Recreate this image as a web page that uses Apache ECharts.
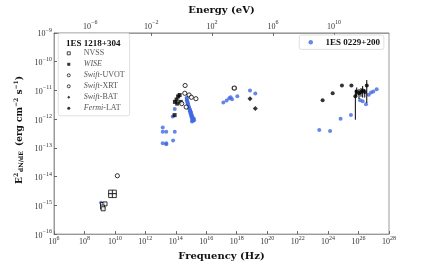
<!DOCTYPE html>
<html><head><meta charset="utf-8">
<script src="https://cdn.jsdelivr.net/npm/echarts@6/dist/echarts.min.js"></script>
<style>html,body{margin:0;padding:0;background:#fff}#c{width:432px;height:266px}</style>
</head><body><div id="c"></div>
<script>
// Values stored as [log10(frequency / Hz), log10(E^2 dN/dE / erg cm^-2 s^-1)]
const nvssLog = [[9.19,-14.97],[9.35,-14.95],[9.19,-15.06],[9.23,-15.12],[9.72,-14.54],[9.96,-14.54],[9.72,-14.66],[9.96,-14.66]];
const wiseLog = [[13.94,-11.40],[14.05,-11.32],[14.15,-11.21],[14.25,-11.16],[14.09,-11.46],[14.32,-11.40],[13.92,-11.86]];
const uvotLog = [[10.16,-13.97],[14.61,-10.83],[14.59,-11.10],[14.87,-11.16],[15.02,-11.24],[15.32,-11.29],[14.68,-11.58],[14.39,-11.46]];
const xrtLog = [[17.84,-10.92]];
const batLog = [[18.87,-11.29],[19.22,-11.63]];
const latLog = [[23.64,-11.34],[24.30,-11.10],[24.91,-10.83],[25.53,-10.83]];
// [log nu, log flux, log low, log high]
const latErrLog = [[25.79,-11.20,-12.02,-10.98],[25.88,-11.04,-11.20,-10.90],[26.03,-11.10,-11.30,-10.95],[26.16,-11.06,-11.22,-10.92],[26.27,-11.00,-11.25,-10.85],[26.41,-11.06,-11.25,-10.95],[26.54,-10.83,-11.44,-10.64]];
const blueLog = [
 [9.09,-14.91],
 [13.14,-12.29],[13.14,-12.44],[13.37,-12.44],[13.93,-12.44],[13.14,-12.84],[13.37,-12.84],[13.37,-12.87],[13.82,-12.74],
 [13.93,-11.65],[13.80,-11.91],
 [14.71,-11.26],[14.72,-11.30],[14.73,-11.34],[14.75,-11.38],[14.77,-11.42],[14.79,-11.46],[14.81,-11.50],[14.83,-11.55],[14.86,-11.58],[14.88,-11.62],[14.90,-11.66],[14.93,-11.68],[14.95,-11.72],[14.98,-11.75],[15.00,-11.78],[14.92,-11.73],[14.96,-11.80],[15.02,-11.83],[15.05,-11.87],[15.00,-11.88],[15.08,-11.92],[15.04,-11.95],[15.10,-11.97],[15.12,-12.00],[15.08,-12.02],[15.15,-12.03],[15.13,-12.06],[15.18,-11.98],[15.20,-12.04],[15.06,-12.08],
 [17.12,-11.42],[17.34,-11.35],[17.51,-11.27],[17.60,-11.24],[17.69,-11.31],[18.04,-11.20],[18.87,-11.00],[19.22,-11.11],
 [23.42,-12.38],[24.13,-12.41],[24.82,-11.99],[25.50,-11.86],[26.10,-11.34],[26.27,-11.38],[26.49,-11.48],[26.67,-11.15],[26.82,-11.07],[26.97,-11.04],[27.19,-10.96]
];
const freqTicks = [6,8,10,12,14,16,18,20,22,24,26,28];
const energyTicks = [-6,-2,2,6,10];
const fluxTicks = [-16,-15,-14,-13,-12,-11,-10,-9];
const H_EV = 4.135667e-15; // Planck constant, eV s

const P = a => a.map(p => [Math.pow(10,p[0]), Math.pow(10,p[1])]);
const pw = e => Math.pow(10,e);
const SERIF = 'Liberation Serif';
const TSERIF = 'DejaVu Serif';
const supFmt = v => { const e = Math.round(Math.log10(v)); return '{b|10}{s|' + (e<0 ? '\u2212'+(-e) : e) + '}'; };
const richLab = { b:{fontSize:8, fontFamily:SERIF, color:'#333', lineHeight:11, verticalAlign:'bottom'}, s:{fontSize:6, fontFamily:SERIF, color:'#333', lineHeight:6, verticalAlign:'top'} };
const axisCol = '#9a9a9a';

const chart = echarts.init(document.getElementById('c'), null, {renderer:'canvas'});
const openStyle = (w) => ({color:'#fff', borderColor:'#000', borderWidth:w});
chart.setOption({
  animation:false,
  grid:{left:54, right:43, top:31, bottom:29, show:true, borderColor:axisCol, borderWidth:1},
  xAxis:[
    {type:'log', position:'bottom', min:pw(6), max:pw(28),
     axisLine:{show:true, lineStyle:{color:axisCol}},
     axisTick:{show:true, inside:true, length:3, lineStyle:{color:'#666'}, customValues:freqTicks.map(pw)},
     axisLabel:{margin:1, formatter:supFmt, rich:richLab, customValues:freqTicks.map(pw)},
     splitLine:{show:false},
     name:'Frequency (Hz)', nameLocation:'middle', nameGap:9,
     nameTextStyle:{fontFamily:TSERIF, fontWeight:'bold', fontSize:10, color:'#111'}},
    {type:'log', position:'top', min:pw(6)*H_EV, max:pw(28)*H_EV,
     axisLine:{show:true, lineStyle:{color:axisCol}},
     axisTick:{show:true, inside:true, length:3, lineStyle:{color:'#666'}, customValues:energyTicks.map(pw)},
     axisLabel:{margin:2, formatter:supFmt, rich:richLab, customValues:energyTicks.map(pw)},
     splitLine:{show:false},
     name:'Energy (eV)', nameLocation:'middle', nameGap:15,
     nameTextStyle:{fontFamily:TSERIF, fontWeight:'bold', fontSize:10, color:'#111'}}
  ],
  yAxis:[{type:'log', min:pw(-16), max:pw(-9),
     axisLine:{show:true, lineStyle:{color:axisCol}},
     axisTick:{show:true, inside:true, length:3, lineStyle:{color:'#666'}, customValues:fluxTicks.map(pw)},
     axisLabel:{margin:2, formatter:supFmt, rich:richLab, customValues:fluxTicks.map(pw)},
     splitLine:{show:false}}],
  legend:[
    {orient:'vertical', left:58.3, top:33.3, padding:[14.5,5,2,8.5], itemGap:0, itemWidth:3, itemHeight:3,
     itemStyle:{borderWidth:0.9},
     backgroundColor:'#fff', borderColor:'#d8d8d8', borderWidth:0.8, borderRadius:2,
     data:['NVSS','WISE','Swift-UVOT','Swift-XRT','Swift-BAT','Fermi-LAT'],
     formatter: n => ({'NVSS':'{r|NVSS}','WISE':'{i|WISE}','Swift-UVOT':'{i|Swift}{r|-UVOT}','Swift-XRT':'{i|Swift}{r|-XRT}','Swift-BAT':'{i|Swift}{r|-BAT}','Fermi-LAT':'{i|Fermi}{r|-LAT}'})[n],
     textStyle:{fontFamily:SERIF, fontSize:8, color:'#555', lineHeight:11, padding:[0,0,0,8.5],
       rich:{r:{fontFamily:SERIF, fontSize:8, color:'#555', lineHeight:11}, i:{fontFamily:SERIF, fontSize:8, fontStyle:'italic', color:'#555', lineHeight:11}}}},
    {orient:'vertical', left:299.3, top:35, padding:[1.7,4,1.7,9.2], itemWidth:4.5, itemHeight:4.5,
     backgroundColor:'#fff', borderColor:'#d8d8d8', borderWidth:0.8, borderRadius:2,
     data:['1ES 0229+200'],
     textStyle:{fontFamily:SERIF, fontSize:9, fontWeight:'bold', color:'#111', lineHeight:11, padding:[0,0,0,7.5]}}
  ],
  graphic:[
    {type:'text', x:93.3, y:43.3, z:100, style:{text:'1ES 1218+304', fontFamily:SERIF, fontSize:9, fontWeight:'bold', fill:'#111', align:'center', verticalAlign:'middle'}},
    {type:'text', x:19, y:130, rotation:Math.PI/2, z:100, style:{
      text:'{b|E}{s|2}{f|dN/dE}{b| (erg cm}{s|\u22122}{b| s}{s|\u22121}{b|)}', align:'center', verticalAlign:'middle',
      rich:{b:{fontFamily:TSERIF, fontWeight:'bold', fontSize:9, fill:'#111', lineHeight:11, verticalAlign:'bottom'},
            s:{fontFamily:TSERIF, fontWeight:'bold', fontSize:6, fill:'#111', lineHeight:6, verticalAlign:'top'},
            f:{fontFamily:TSERIF, fontWeight:'bold', fontSize:6, fill:'#111', lineHeight:11, verticalAlign:'bottom', padding:[0,2,0,1]}}}}
  ],
  series:[
    {name:'1ES 0229+200', type:'scatter', symbol:'circle', symbolSize:4, z:2, data:P(blueLog), itemStyle:{color:'#4169e1', opacity:0.8}},
    {name:'NVSS', type:'scatter', symbol:'rect', symbolSize:4, z:3, data:P(nvssLog), itemStyle:openStyle(1)},
    {name:'WISE', type:'scatter', symbol:'rect', symbolSize:4, z:3, data:P(wiseLog), itemStyle:{color:'#000'}},
    {name:'Swift-UVOT', type:'scatter', symbol:'circle', symbolSize:4.2, z:3, data:P(uvotLog), itemStyle:openStyle(1)},
    {name:'Swift-XRT', type:'scatter', symbol:'circle', symbolSize:4.2, z:3, data:P(xrtLog), itemStyle:openStyle(1.2)},
    {name:'Swift-BAT', type:'scatter', symbol:'diamond', symbolSize:5, z:3, data:P(batLog), itemStyle:{color:'#000'}},
    {name:'Fermi-LAT', type:'scatter', symbol:'circle', symbolSize:4, z:3, data:P(latLog.concat(latErrLog.map(d=>[d[0],d[1]]))), itemStyle:{color:'#000'}},
    {name:'LATerr', type:'custom', z:3, data:latErrLog.map(d=>[pw(d[0]),pw(d[1]),pw(d[2]),pw(d[3])]),
     encode:{x:0, y:[1,2,3]},
     renderItem:(params, api) => {
       const lo = api.coord([api.value(0), api.value(2)]);
       const hi = api.coord([api.value(0), api.value(3)]);
       return {type:'line', shape:{x1:lo[0], y1:lo[1], x2:hi[0], y2:hi[1]}, style:{stroke:'#000', lineWidth:1}};
     }}
  ]
});
</script></body></html>
